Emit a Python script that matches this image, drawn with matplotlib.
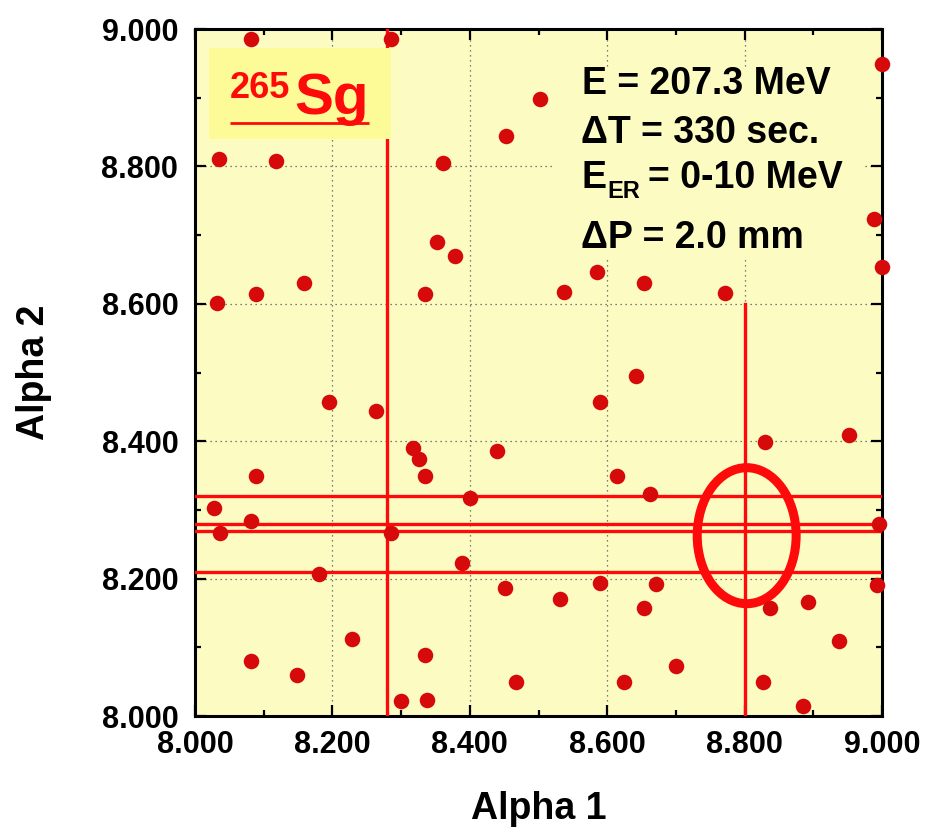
import matplotlib.pyplot as plt
from matplotlib.patches import Ellipse, Rectangle
from matplotlib.ticker import MultipleLocator, FormatStrFormatter

plt.rcParams['font.family'] = ['Liberation Sans', 'DejaVu Sans']
plt.rcParams['font.weight'] = 'bold'

# alpha-alpha correlation events (MeV)
alpha1 = [8.0815, 8.2849, 8.502, 8.4527, 8.0345, 8.1174, 8.3615, 8.3517, 8.379,
          8.158, 8.0893, 8.3343, 8.0325, 9.000, 8.9888, 9.000, 8.5852, 8.5366,
          8.6531, 8.771, 8.6415, 8.1955, 8.263, 8.3169, 8.3265, 8.4391, 8.0893,
          8.3343, 8.4008, 8.0281, 8.0815, 8.0364, 8.2849, 8.3892, 8.1805, 8.4517,
          8.2281, 8.3343, 8.082, 8.148, 8.4677, 8.2994, 8.3372, 8.59, 8.8301,
          8.9515, 8.6147, 8.6623, 8.9961, 8.59, 8.6715, 8.9922, 8.5313, 8.6531,
          8.837, 8.8916, 8.937, 8.624, 8.7006, 8.8268, 8.885]
alpha2 = [8.9855, 8.9855, 8.8986, 8.8443, 8.8112, 8.8083, 8.8044, 8.6904, 8.6696,
          8.630, 8.6147, 8.6147, 8.601, 8.9485, 8.7234, 8.654, 8.6458, 8.6178,
          8.630, 8.6157, 8.4954, 8.4575, 8.444, 8.3897, 8.3741, 8.3863, 8.3489,
          8.3489, 8.3173, 8.3023, 8.2843, 8.2664, 8.2664, 8.2232, 8.2067, 8.1858,
          8.1121, 8.0888, 8.0801, 8.0592, 8.05, 8.0214, 8.0233, 8.4575, 8.3988,
          8.4084, 8.3489, 8.3236, 8.2795, 8.194, 8.1926, 8.1911, 8.1703, 8.1576,
          8.1567, 8.1664, 8.1087, 8.049, 8.0723, 8.049, 8.0141]

# gate lines
hlines_y = [8.32, 8.28, 8.27, 8.21]
vline_full_x = 8.28
vline_part_x = 8.80
vline_part_top = 8.60
ellipse_xy = (8.803, 8.2625)
ellipse_w, ellipse_h = 0.144, 0.198

bg = '#fcfcc2'
red = '#ff0a0a'

fig = plt.figure(figsize=(9.26, 8.32), dpi=100)
ax = fig.add_axes([0.2106, 0.1394, 0.7419, 0.8257])
ax.set_facecolor(bg)
ax.set_xlim(8.0, 9.0)
ax.set_ylim(8.0, 9.0)

for y in hlines_y:
    ax.axhline(y, color=red, lw=2.4, zorder=3)
ax.axvline(vline_full_x, color=red, lw=2.4, zorder=3)
ax.plot([vline_part_x, vline_part_x], [8.0, vline_part_top], color=red, lw=2.4, zorder=3)
ax.add_patch(Ellipse(ellipse_xy, ellipse_w, ellipse_h, fill=False, ec=red, lw=6.5, zorder=3))

ax.scatter(alpha1, alpha2, s=125, color='#d60a0a', lw=0, zorder=6, clip_on=False)

ax.xaxis.set_major_locator(MultipleLocator(0.2))
ax.xaxis.set_minor_locator(MultipleLocator(0.1))
ax.yaxis.set_major_locator(MultipleLocator(0.2))
ax.yaxis.set_minor_locator(MultipleLocator(0.1))
ax.xaxis.set_major_formatter(FormatStrFormatter('%.3f'))
ax.yaxis.set_major_formatter(FormatStrFormatter('%.3f'))
ax.tick_params(which='both', direction='in', top=True, right=True, width=1.6)
ax.tick_params(which='major', length=8, labelsize=22)
ax.tick_params(which='minor', length=4)
ax.tick_params(axis='x', which='major', pad=10)
ax.tick_params(axis='y', which='major', pad=12)
for s in ax.spines.values():
    s.set_linewidth(2.2)
ax.grid(True, which='major', color='#555555', lw=0.9, linestyle=(0, (1, 3)), zorder=1)
ax.set_axisbelow(True)

ax.set_xlabel('Alpha 1', fontsize=27, fontweight='bold')
ax.set_ylabel('Alpha 2', fontsize=27, fontweight='bold')
ax.xaxis.set_label_coords(0.5, -0.109)
ax.yaxis.set_label_coords(-0.208, 0.5)

# isotope label box
ax.add_patch(Rectangle((0.0204, 0.8399), 0.2649, 0.1324, transform=ax.transAxes,
                       fc='#fdfb98', ec='none', zorder=4))
ax.text(0.0509, 0.899, '265', transform=ax.transAxes, fontsize=26, color=red,
        fontweight='bold', va='baseline', zorder=5)
ax.text(0.1450, 0.8756, 'Sg', transform=ax.transAxes, fontsize=42, color=red,
        fontweight='bold', va='baseline', zorder=5)
ax.plot([0.0509, 0.2533], [0.8632, 0.8632], transform=ax.transAxes, color=red,
        lw=2.0, zorder=5, solid_capstyle='butt')

# conditions text
ax.add_patch(Rectangle((0.5197, 0.6638), 0.4527, 0.2794, transform=ax.transAxes,
                       fc=bg, ec='none', zorder=2))
kw = dict(transform=ax.transAxes, fontsize=27, fontweight='bold', va='baseline', zorder=5)
ax.text(0.5629, 0.9054, 'E = 207.3 MeV', **kw)
ax.text(0.5620, 0.8335, '\u0394T = 330 sec.', **kw)
ax.text(0.5629, 0.7680, 'E', **kw)
ax.text(0.5997, 0.7534, 'ER', transform=ax.transAxes, fontsize=17, fontweight='bold',
        va='baseline', zorder=5)
ax.text(0.6600, 0.7680, '= 0-10 MeV', **kw)
ax.text(0.5620, 0.6808, '\u0394P = 2.0 mm', **kw)

fig.savefig('out.png', dpi=100)
